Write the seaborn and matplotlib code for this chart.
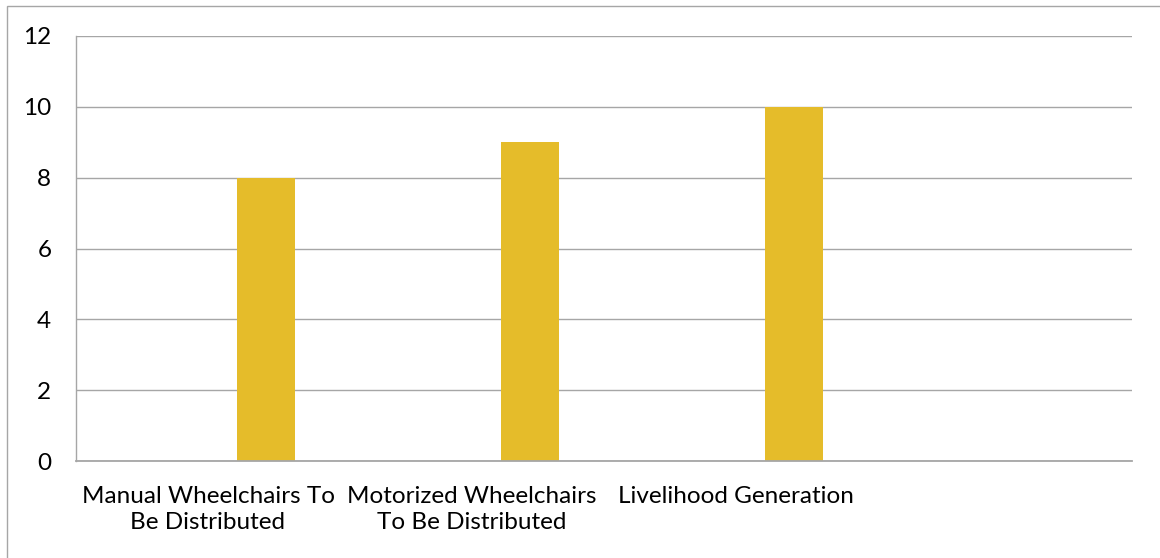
import matplotlib
matplotlib.use("Agg")
import matplotlib.pyplot as plt
import seaborn as sns
import pandas as pd
from matplotlib.patches import Rectangle

categories = ["Manual Wheelchairs To\nBe Distributed",
              "Motorized Wheelchairs\nTo Be Distributed",
              "Livelihood Generation",
              ""]
series_names = ["Series1", "Series2", "Series3"]
series1 = [0, 0, 0, 0]
series2 = [0, 0, 0, 0]
series3 = [8, 9, 10, 0]
y_ticks = [0, 2, 4, 6, 8, 10, 12]

rows = []
for name, vals in zip(series_names, [series1, series2, series3]):
    for c, v in zip(categories, vals):
        rows.append({"category": c, "series": name, "value": v})
df = pd.DataFrame(rows)

sns.set_theme(style="white")
plt.rcParams["font.family"] = ["Lato", "DejaVu Sans"]

fig = plt.figure(figsize=(11.6, 5.58), dpi=100)
ax = fig.add_axes([76/1160, 1-461/558, (1132-76)/1160, (461-36)/558])

grid_c = "#A6A6A6"
bar_c = "#E5BC2A"
fs = 17.5
sns.barplot(data=df, x="category", y="value", hue="series", order=categories,
            hue_order=series_names,
            palette=[bar_c, bar_c, bar_c], width=0.66, linewidth=0,
            saturation=1, legend=False, ax=ax)

ax.set_xlim(-0.5, 3.5)
ax.set_ylim(0, 12)
ax.set_yticks(y_ticks)
ax.set_yticklabels([str(t) for t in y_ticks], fontsize=fs, color="black")
ax.set_xticks(range(len(categories)))
ax.set_xticklabels(categories, fontsize=fs, color="black", linespacing=1.3)
ax.set_xticks([-0.5, 0.5, 1.5, 2.5, 3.5], minor=True)
ax.tick_params(axis="x", which="major", length=0, pad=18)
ax.tick_params(axis="x", which="minor", length=4.3, width=1, color=grid_c, direction="out")
ax.tick_params(axis="y", length=5.8, width=1, color=grid_c, direction="out", pad=12)
ax.set_xlabel("")
ax.set_ylabel("")
ax.yaxis.grid(True, color=grid_c, linewidth=1)
ax.set_axisbelow(True)
for s in ["top", "right"]:
    ax.spines[s].set_visible(False)
ax.spines["left"].set_color(grid_c)
ax.spines["bottom"].set_color(grid_c)
ax.spines["left"].set_linewidth(1)
ax.spines["bottom"].set_linewidth(1.3)

fig.patches.append(Rectangle((7/1160, -0.1), 1.2, 1-6/558+0.1, transform=fig.transFigure,
                             fill=False, edgecolor="#A6A6A6", linewidth=1))

fig.savefig("out.png", dpi=100)
